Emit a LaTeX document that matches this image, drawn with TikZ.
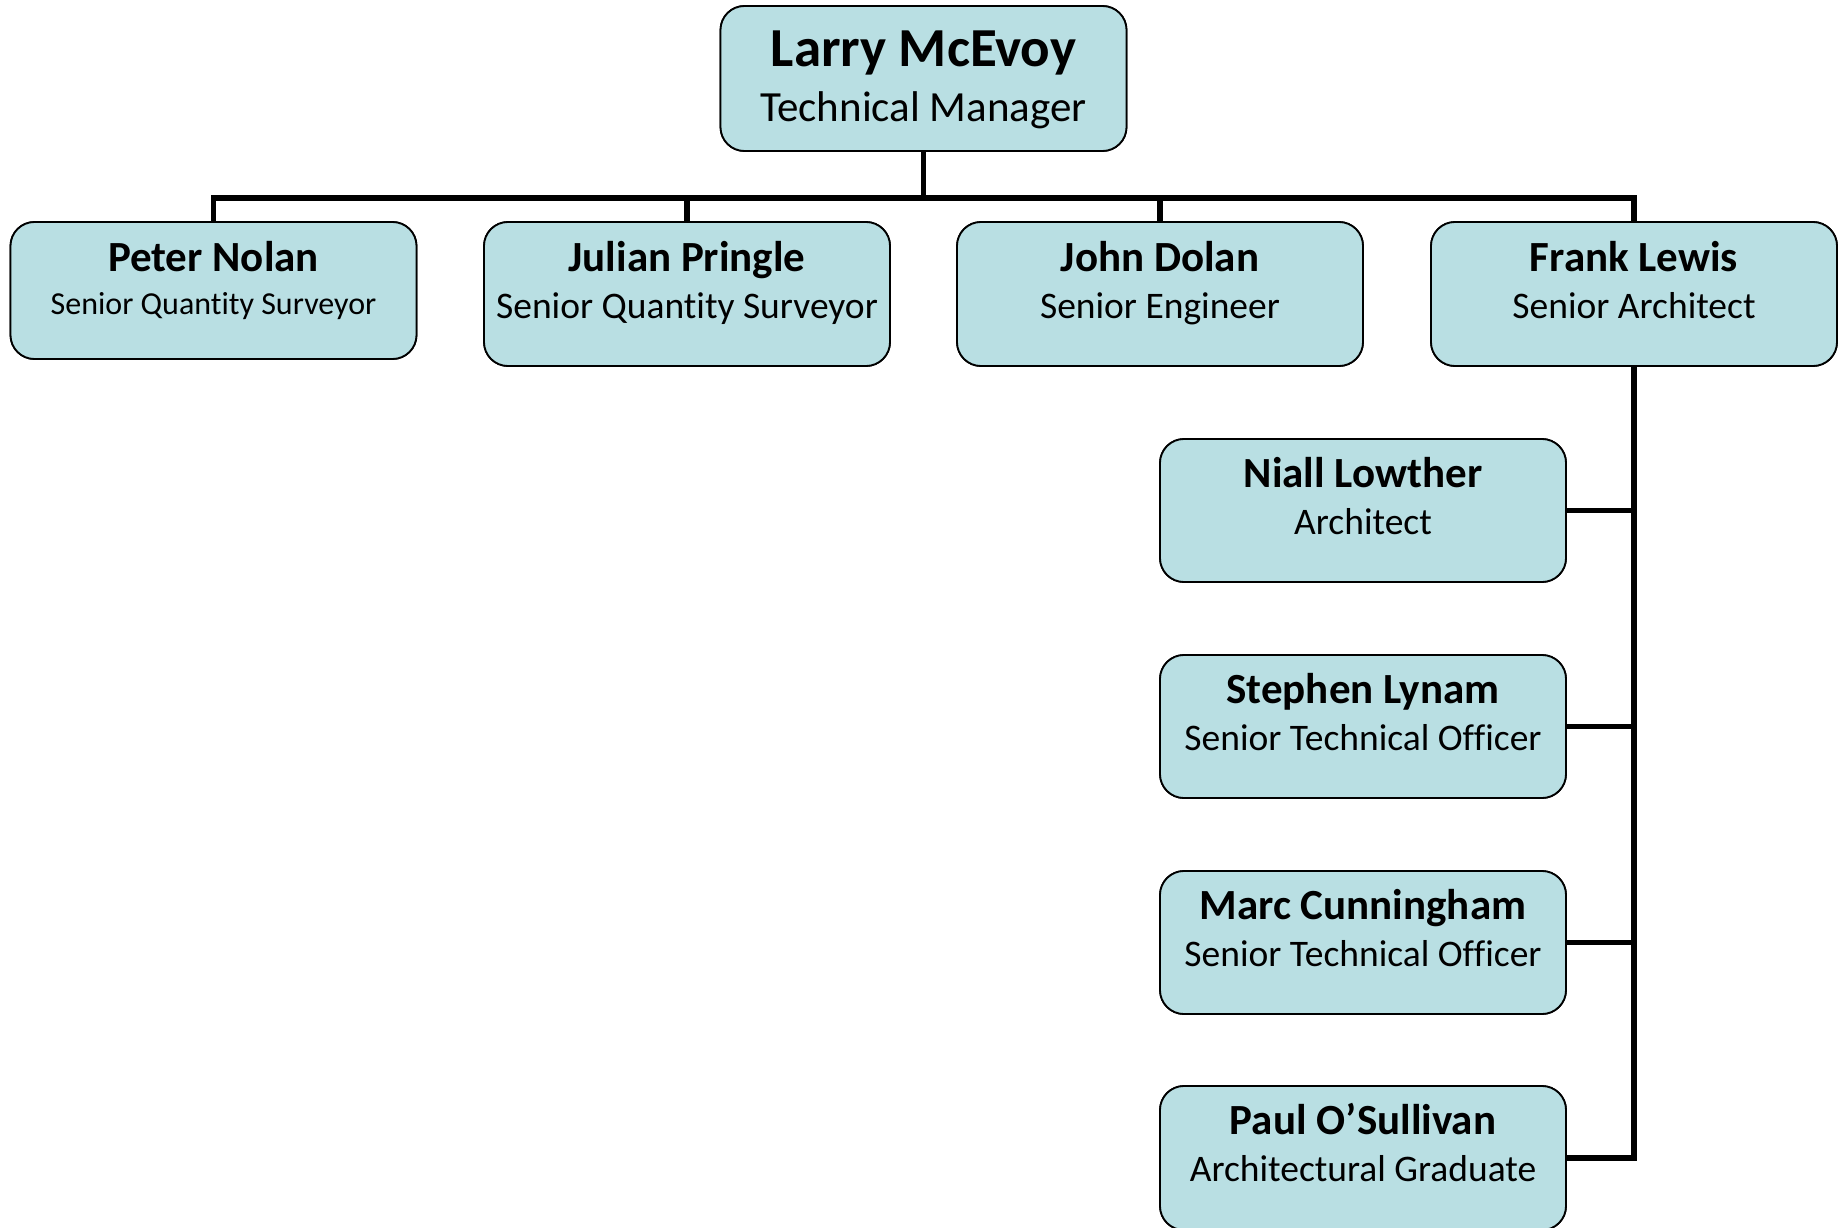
\documentclass[tikz,border=0pt]{standalone}
\usepackage{fontspec}
\setmainfont{Carlito}[Ligatures=NoCommon]
\definecolor{boxfill}{HTML}{B9DFE3}
\begin{document}
\begin{tikzpicture}[x=1pt,y=-1pt,
  box/.style={draw=black,line width=1.8pt,fill=boxfill,rounded corners=24pt,minimum width=406pt,inner sep=0pt},
  conn/.style={line width=5.5pt,line join=miter,line cap=rect},
  nm/.style={anchor=base,inner sep=0pt,font=\fontsize{43}{50}\selectfont\bfseries},
  rl/.style={anchor=base,inner sep=0pt,font=\fontsize{37.5}{44}\selectfont}]
\useasboundingbox (0,0) rectangle (1845,1228);
% boxes (positions)
\node[box,minimum height=145pt] (top) at (923.5,78.5) {};
\node[box,minimum height=137pt] (peter) at (213.5,290.5) {};
\node[box,minimum height=144pt] (julian) at (687,294) {};
\node[box,minimum height=144pt] (john) at (1160,294) {};
\node[box,minimum height=144pt] (frank) at (1634,294) {};
\node[box,minimum height=143pt] (niall) at (1363,510.5) {};
\node[box,minimum height=143pt] (stephen) at (1363,726.5) {};
\node[box,minimum height=143pt] (marc) at (1363,942.5) {};
\node[box,minimum height=144pt] (paul) at (1363,1158) {};
% connectors
\coordinate (bus) at (923.5,198);
\draw[conn] (top.south) -- (bus);
\draw[conn] (peter.north) |- (bus);
\draw[conn] (frank.north) |- (bus);
\draw[conn] (julian.north) -- (julian.north |- bus);
\draw[conn] (john.north) -- (john.north |- bus);
\draw[conn] (frank.south) |- (paul.east);
\draw[conn] (niall.east) -- (niall.east -| frank.south);
\draw[conn] (stephen.east) -- (stephen.east -| frank.south);
\draw[conn] (marc.east) -- (marc.east -| frank.south);
% redraw boxes on top of connector ends
\foreach \n/\h/\x/\y in {top/145/923.5/78.5,peter/137/213.5/290.5,julian/144/687/294,john/144/1160/294,frank/144/1634/294,niall/143/1363/510.5,stephen/143/1363/726.5,marc/143/1363/942.5,paul/144/1363/1158}
  \node[box,minimum height=\h pt] (\n copy) at (\x,\y) {};
% texts
\node[nm,font=\fontsize{55}{62}\selectfont\bfseries] (topN) at ([yshift=-61pt]top.north) {Larry McEvoy};
\node[rl,font=\fontsize{43}{50}\selectfont] (topR) at ([yshift=-116pt]top.north) {Technical Manager};
\node[nm] (peterN) at ([yshift=-50pt]peter.north) {Peter Nolan};
\node[rl,font=\fontsize{32}{38}\selectfont] (peterR) at ([yshift=-93pt]peter.north) {Senior Quantity Surveyor};
\node[nm] (julianN) at ([yshift=-50pt]julian.north) {Julian Pringle};
\node[rl] (julianR) at ([yshift=-97pt]julian.north) {Senior Quantity Surveyor};
\node[nm] (johnN) at ([yshift=-50pt]john.north) {John Dolan};
\node[rl] (johnR) at ([yshift=-97pt]john.north) {Senior Engineer};
\node[nm] (frankN) at ([yshift=-50pt]frank.north) {Frank Lewis};
\node[rl] (frankR) at ([yshift=-97pt]frank.north) {Senior Architect};
\node[nm] (niallN) at ([yshift=-49pt]niall.north) {Niall Lowther};
\node[rl] (niallR) at ([yshift=-96pt]niall.north) {Architect};
\node[nm] (stephenN) at ([yshift=-49pt]stephen.north) {Stephen Lynam};
\node[rl] (stephenR) at ([yshift=-96pt]stephen.north) {Senior Technical Officer};
\node[nm] (marcN) at ([yshift=-49pt]marc.north) {Marc Cunningham};
\node[rl] (marcR) at ([yshift=-96pt]marc.north) {Senior Technical Officer};
\node[nm] (paulN) at ([yshift=-49pt]paul.north) {Paul O’Sullivan};
\node[rl] (paulR) at ([yshift=-96pt]paul.north) {Architectural Graduate};
\end{tikzpicture}
\end{document}
